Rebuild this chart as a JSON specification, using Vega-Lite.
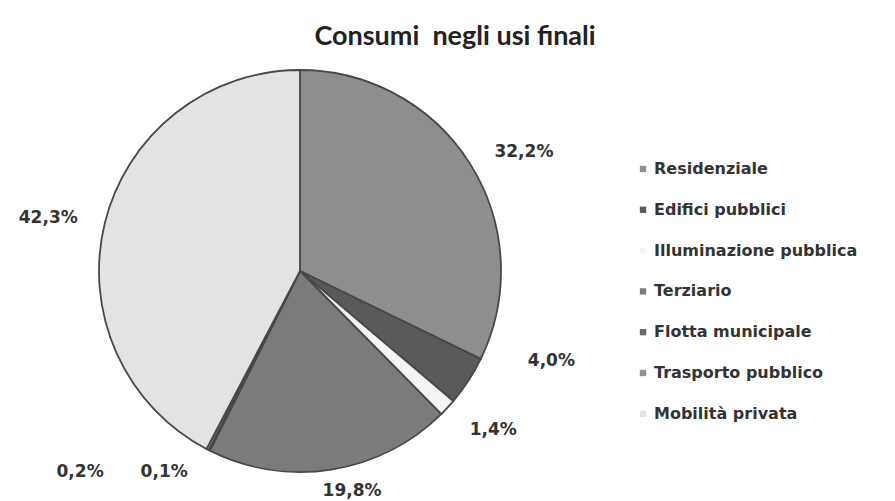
{
  "$schema": "https://vega.github.io/schema/vega-lite/v6.json",
  "width": 600,
  "height": 402,
  "autosize": {"type": "none"},
  "padding": {"left": 0, "top": 70, "right": 295, "bottom": 29},
  "background": "white",
  "title": {
    "text": "Consumi \u00a0negli usi finali",
    "font": "Lato",
    "fontSize": 27,
    "fontWeight": "bold",
    "color": "#222222",
    "anchor": "middle",
    "frame": "group",
    "dx": 155,
    "offset": 15
  },
  "data": {
    "values": [
      {"ord": 1, "cat": "Residenziale", "v": 32.2, "lab": "32,2%"},
      {"ord": 2, "cat": "Edifici pubblici", "v": 4.0, "lab": "4,0%"},
      {"ord": 3, "cat": "Illuminazione pubblica", "v": 1.4, "lab": "1,4%"},
      {"ord": 4, "cat": "Terziario", "v": 19.8, "lab": "19,8%"},
      {"ord": 5, "cat": "Flotta municipale", "v": 0.1, "lab": "0,1%"},
      {"ord": 6, "cat": "Trasporto pubblico", "v": 0.2, "lab": "0,2%"},
      {"ord": 7, "cat": "Mobilità privata", "v": 42.3, "lab": "42,3%"}
    ]
  },
  "encoding": {
    "theta": {"field": "v", "type": "quantitative", "stack": true},
    "order": {"field": "ord", "type": "quantitative"}
  },
  "layer": [
    {
      "mark": {"type": "arc", "outerRadius": 201, "stroke": "#484848", "strokeWidth": 1.8},
      "encoding": {
        "color": {
          "field": "cat",
          "type": "nominal",
          "scale": {
            "domain": ["Residenziale", "Edifici pubblici", "Illuminazione pubblica", "Terziario", "Flotta municipale", "Trasporto pubblico", "Mobilità privata"],
            "range": ["#8e8e8e", "#5a5a5a", "#f4f4f4", "#7b7b7b", "#6a6a6a", "#909090", "#e3e3e3"]
          },
          "legend": {
            "title": null,
            "orient": "none",
            "legendX": 635,
            "legendY": 91,
            "symbolType": "square",
            "symbolSize": 40,
            "symbolStrokeWidth": 0,
            "labelFont": "DejaVu Sans",
            "labelFontSize": 16,
            "labelFontWeight": "bold",
            "labelColor": "#333333",
            "labelLimit": 400,
            "rowPadding": 24.8,
            "labelOffset": 3,
            "padding": 0
          }
        }
      }
    },
    {
      "mark": {"type": "text", "radius": 250, "dx": 12, "dy": 14, "font": "DejaVu Sans", "fontSize": 17, "fontWeight": "bold", "color": "#333333", "align": "center", "baseline": "middle"},
      "encoding": {"text": {"condition": {"test": "datum.ord == 1", "field": "lab"}, "value": ""}}
    },
    {
      "mark": {"type": "text", "radius": 250, "dx": 42, "dy": -47, "font": "DejaVu Sans", "fontSize": 17, "fontWeight": "bold", "color": "#333333", "align": "center", "baseline": "middle"},
      "encoding": {"text": {"condition": {"test": "datum.ord == 2", "field": "lab"}, "value": ""}}
    },
    {
      "mark": {"type": "text", "radius": 250, "dx": 10, "dy": -11, "font": "DejaVu Sans", "fontSize": 17, "fontWeight": "bold", "color": "#333333", "align": "center", "baseline": "middle"},
      "encoding": {"text": {"condition": {"test": "datum.ord == 3", "field": "lab"}, "value": ""}}
    },
    {
      "mark": {"type": "text", "radius": 250, "dx": 13, "dy": -27, "font": "DejaVu Sans", "fontSize": 17, "fontWeight": "bold", "color": "#333333", "align": "center", "baseline": "middle"},
      "encoding": {"text": {"condition": {"test": "datum.ord == 4", "field": "lab"}, "value": ""}}
    },
    {
      "mark": {"type": "text", "radius": 250, "dx": -23, "dy": -22, "font": "DejaVu Sans", "fontSize": 17, "fontWeight": "bold", "color": "#333333", "align": "center", "baseline": "middle"},
      "encoding": {"text": {"condition": {"test": "datum.ord == 5", "field": "lab"}, "value": ""}}
    },
    {
      "mark": {"type": "text", "radius": 250, "dx": -105, "dy": -21, "font": "DejaVu Sans", "fontSize": 17, "fontWeight": "bold", "color": "#333333", "align": "center", "baseline": "middle"},
      "encoding": {"text": {"condition": {"test": "datum.ord == 6", "field": "lab"}, "value": ""}}
    },
    {
      "mark": {"type": "text", "radius": 250, "dx": -9, "dy": 7, "font": "DejaVu Sans", "fontSize": 17, "fontWeight": "bold", "color": "#333333", "align": "center", "baseline": "middle"},
      "encoding": {"text": {"condition": {"test": "datum.ord == 7", "field": "lab"}, "value": ""}}
    }
  ],
  "config": {"view": {"stroke": null}}
}
